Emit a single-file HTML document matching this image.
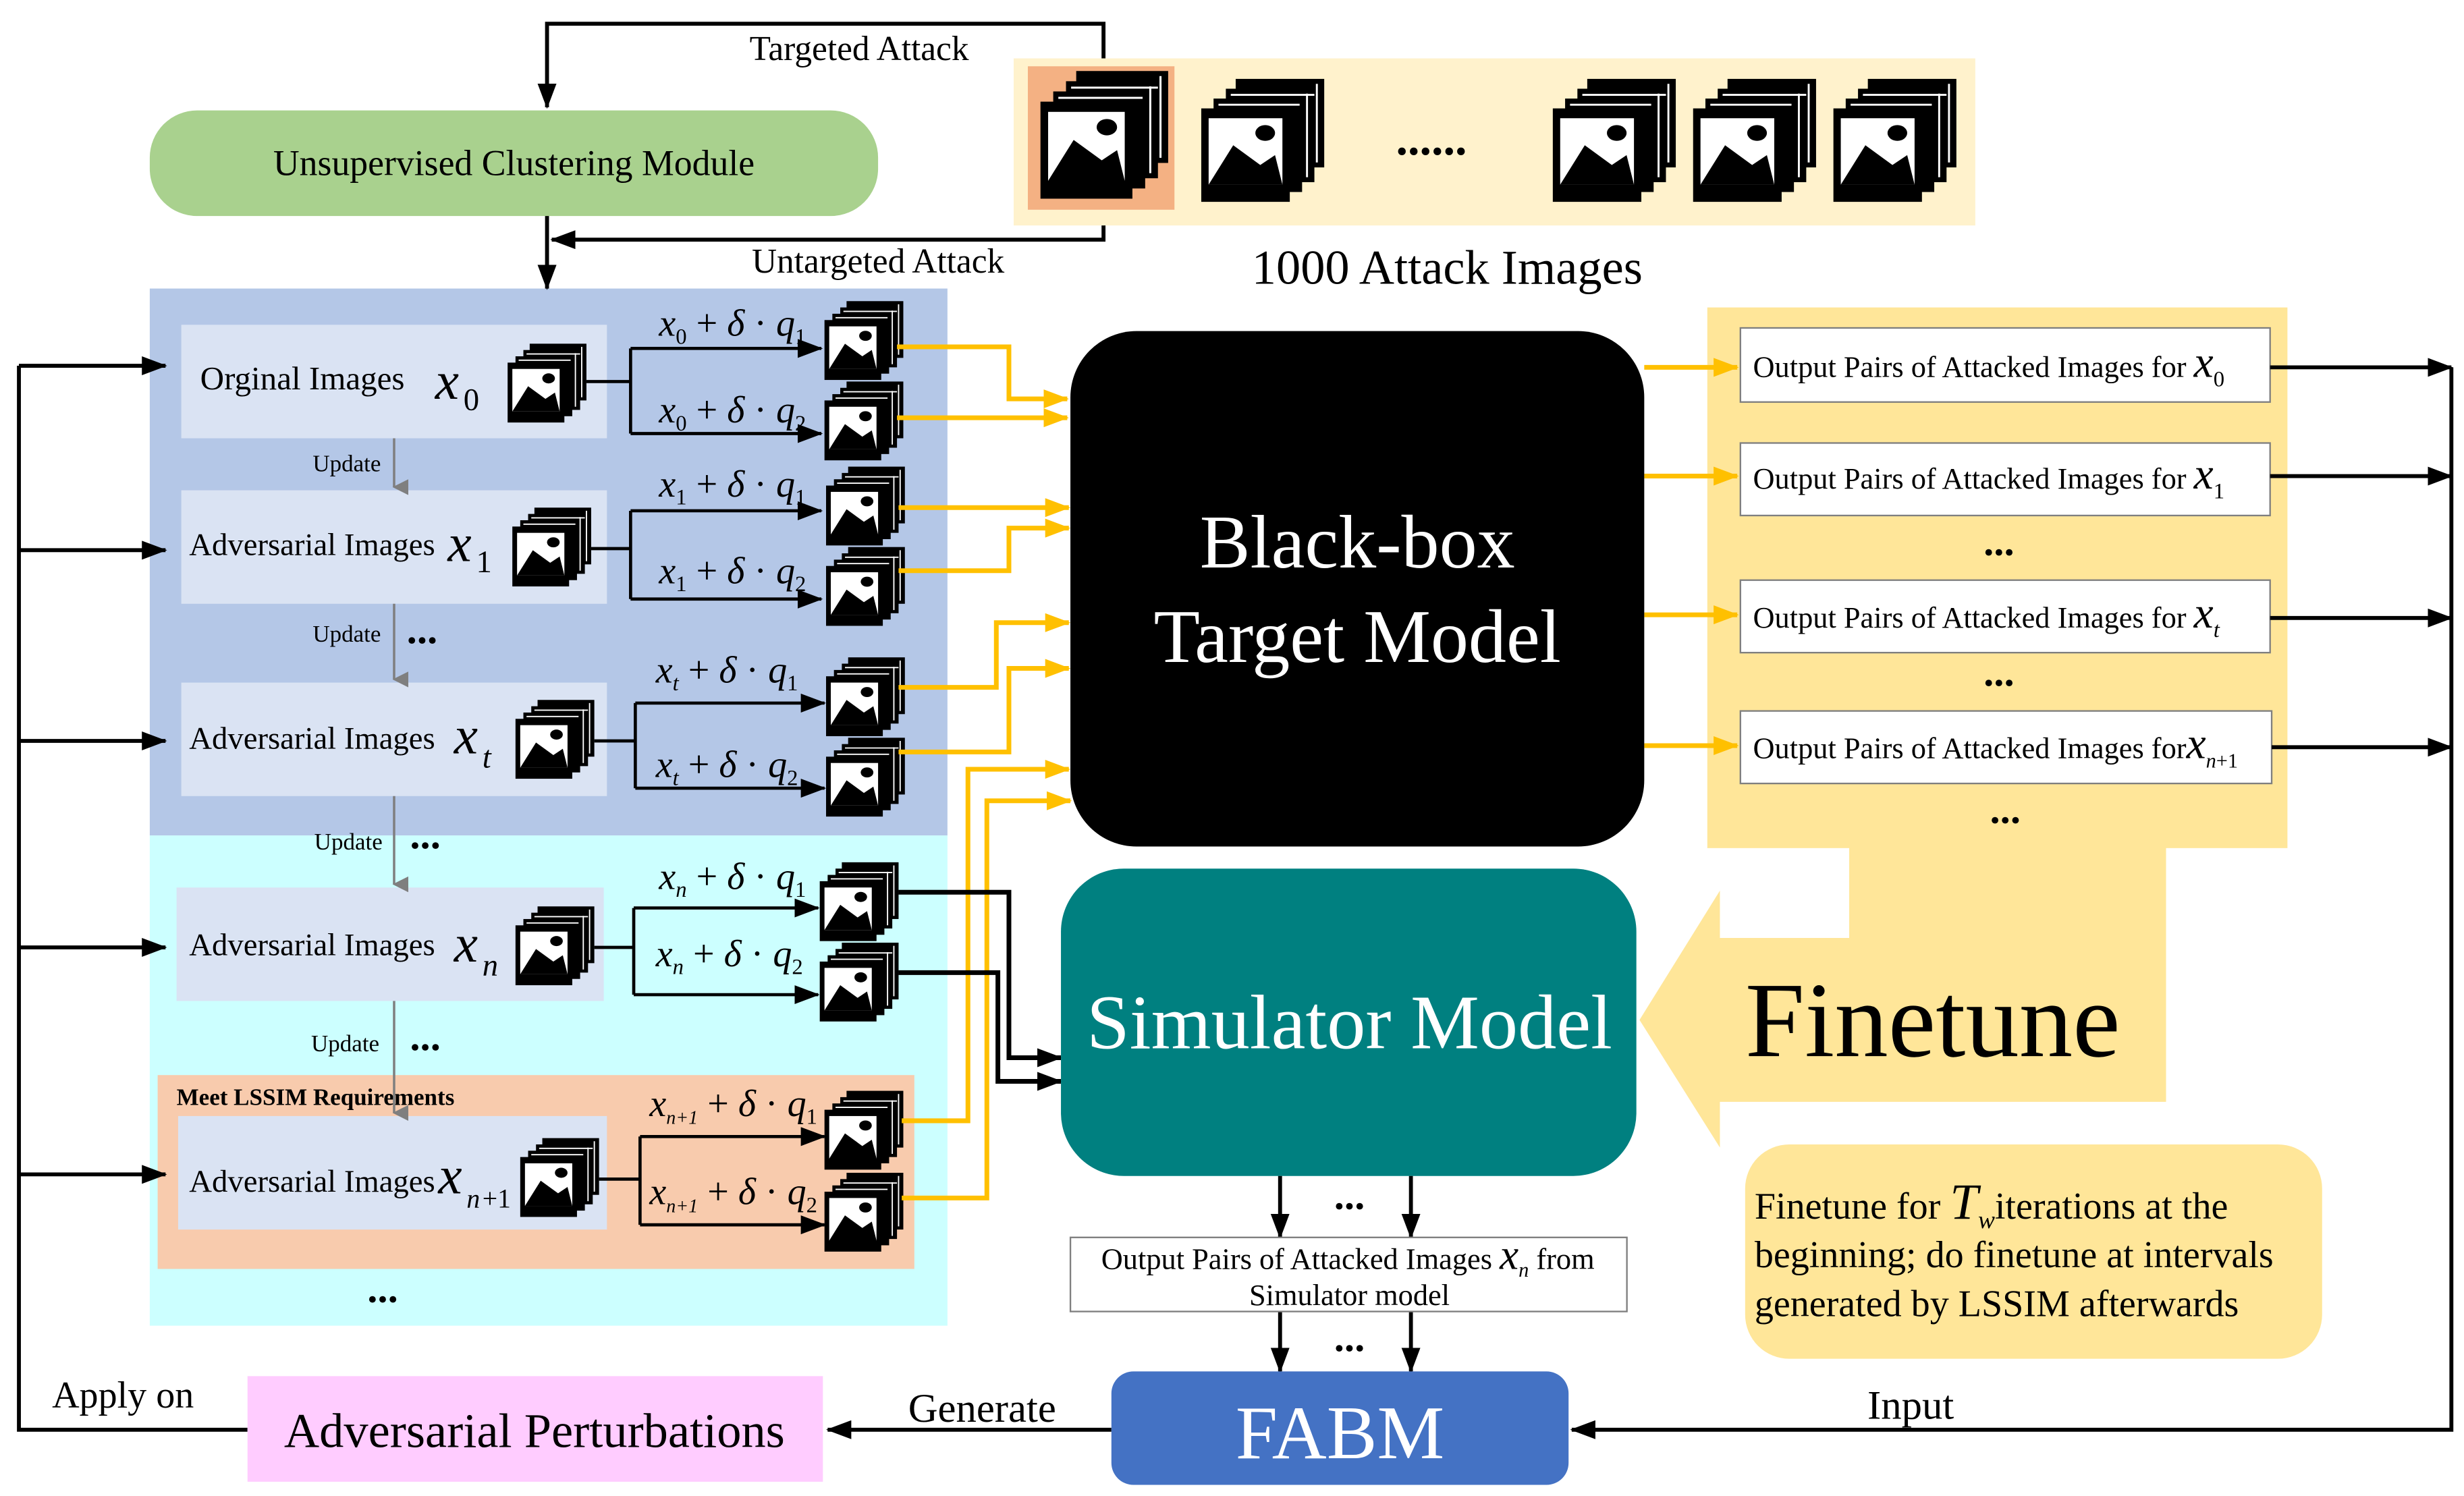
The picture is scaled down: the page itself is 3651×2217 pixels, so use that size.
<!DOCTYPE html>
<html><head><meta charset="utf-8"><style>
html,body{margin:0;padding:0;background:#fff;}
svg{display:block;font-family:"Liberation Serif","Times New Roman",Times,"DejaVu Serif",serif;}
svg text{font-family:"Liberation Serif","Times New Roman",Times,"DejaVu Serif",serif;}
.it{font-style:italic;}
</style></head><body>
<svg width="3651" height="2217" viewBox="0 0 1563 949" xmlns="http://www.w3.org/2000/svg" font-family="Liberation Serif, Times New Roman, serif">
<defs>
<marker id="ab" markerUnits="userSpaceOnUse" markerWidth="16" markerHeight="12" refX="15" refY="6" orient="auto"><path d="M0,0 L16,6 L0,12 Z" fill="#000"/></marker>
<marker id="ay" markerUnits="userSpaceOnUse" markerWidth="16" markerHeight="12" refX="15" refY="6" orient="auto"><path d="M0,0 L16,6 L0,12 Z" fill="#ffc000"/></marker>
<marker id="ag" markerUnits="userSpaceOnUse" markerWidth="10" markerHeight="10" refX="5" refY="9" orient="auto-start-reverse"><path d="M0,0 L5,10 L10,0 Z" fill="#7f7f7f"/></marker>
<g id="st">
<rect x="14" y="0" width="36" height="36" fill="#000"/>
<rect x="10" y="4" width="36" height="38" fill="#000"/>
<line x1="12" y1="6.5" x2="46" y2="6.5" stroke="#fff" stroke-width="0.8"/>
<line x1="47" y1="2" x2="47" y2="34" stroke="#fff" stroke-width="0.8"/>
<rect x="5" y="8" width="36" height="38" fill="#000"/>
<line x1="7" y1="10.5" x2="40" y2="10.5" stroke="#fff" stroke-width="0.8"/>
<line x1="43" y1="6" x2="43" y2="40" stroke="#fff" stroke-width="0.8"/>
<rect x="0" y="12" width="36" height="38" fill="#000"/>
<rect x="3" y="16" width="30" height="27" fill="#fff"/>
<polygon points="3,43 13,27 24,35 30,31 33,43" fill="#000"/>
<ellipse cx="26" cy="22" rx="4" ry="3.2" fill="#000"/>
</g>
</defs>

<rect x="643" y="37" width="610" height="106" fill="#fff2cc"/>
<rect x="652" y="42" width="93" height="91" fill="#f4b183"/>
<rect x="95" y="183" width="506" height="347" fill="#b4c7e7"/>
<rect x="95" y="530" width="506" height="311" fill="#ccffff"/>
<rect x="100" y="682" width="480" height="123" fill="#f8cbad"/>
<rect x="1083" y="195" width="368" height="343" fill="#ffe699"/>
<polygon points="1173,537 1374,537 1374,699 1091,699 1091,728 1040,647 1091,565 1091,595 1173,595" fill="#ffe699"/>

<rect x="95" y="70" width="462" height="67" rx="30" fill="#a9d18e"/>
<text x="326" y="111" font-size="23" text-anchor="middle">Unsupervised Clustering Module</text>
<polyline points="700,37 700,15 347,15 347,68" fill="none" stroke="#000" stroke-width="2.5" marker-end="url(#ab)"/>
<text x="545" y="38" font-size="22" text-anchor="middle">Targeted Attack</text>
<polyline points="700,143 700,152 350,152" fill="none" stroke="#000" stroke-width="2.5" marker-end="url(#ab)"/>
<line x1="347" y1="137" x2="347" y2="183" stroke="#000" stroke-width="2.5" marker-end="url(#ab)"/>
<text x="557" y="173" font-size="22" text-anchor="middle">Untargeted Attack</text>
<text x="918" y="180" font-size="31" text-anchor="middle">1000 Attack Images</text>
<use href="#st" transform="translate(660,45) scale(1.62)"/>
<use href="#st" transform="translate(762,50) scale(1.56)"/>
<text x="908" y="98" font-size="30" text-anchor="middle" font-weight="bold">......</text>
<use href="#st" transform="translate(985,50) scale(1.56)"/>
<use href="#st" transform="translate(1074,50) scale(1.56)"/>
<use href="#st" transform="translate(1163,50) scale(1.56)"/>

<g fill="#dae3f3">
<rect x="115" y="206" width="270" height="72"/>
<rect x="115" y="311" width="270" height="72"/>
<rect x="115" y="433" width="270" height="72"/>
<rect x="112" y="563" width="271" height="72"/>
<rect x="113" y="708" width="272" height="72"/>
</g>
<text x="127" y="247" font-size="21">Orginal Images</text><text x="276" y="253" font-size="34" class="it">x</text><text x="294" y="260" font-size="20">0</text>
<text x="120" y="352" font-size="20">Adversarial Images</text><text x="284" y="356" font-size="34" class="it">x</text><text x="302" y="363" font-size="20">1</text>
<text x="120" y="475" font-size="20">Adversarial Images</text><text x="288" y="478" font-size="34" class="it">x</text><text x="306" y="487" font-size="20" class="it">t</text>
<text x="120" y="606" font-size="20">Adversarial Images</text><text x="288" y="610" font-size="34" class="it">x</text><text x="306" y="619" font-size="20" class="it">n</text>
<text x="112" y="701" font-size="15" font-weight="bold">Meet LSSIM Requirements</text>
<text x="120" y="756" font-size="20">Adversarial Images</text><text x="278" y="757" font-size="34" class="it">x</text><text x="296" y="766" font-size="17" class="it">n</text><text x="306" y="766" font-size="17">+1</text>
<use href="#st" transform="translate(322,218)"/>
<use href="#st" transform="translate(325,322)"/>
<use href="#st" transform="translate(327,444)"/>
<use href="#st" transform="translate(327,575)"/>
<use href="#st" transform="translate(330,722)"/>

<g fill="none" stroke="#000" stroke-width="2">
<polyline points="372,242 400,242"/><polyline points="400,221 400,275"/>
<line x1="400" y1="221" x2="521" y2="221" marker-end="url(#ab)"/><line x1="400" y1="275" x2="521" y2="275" marker-end="url(#ab)"/>
<polyline points="375,348 400,348"/><polyline points="400,324 400,380"/>
<line x1="400" y1="324" x2="521" y2="324" marker-end="url(#ab)"/><line x1="400" y1="380" x2="521" y2="380" marker-end="url(#ab)"/>
<polyline points="377,470 403,470"/><polyline points="403,446 403,500"/>
<line x1="403" y1="446" x2="523" y2="446" marker-end="url(#ab)"/><line x1="403" y1="500" x2="523" y2="500" marker-end="url(#ab)"/>
<polyline points="377,601 402,601"/><polyline points="402,576 402,631"/>
<line x1="402" y1="576" x2="519" y2="576" marker-end="url(#ab)"/><line x1="402" y1="631" x2="519" y2="631" marker-end="url(#ab)"/>
<polyline points="380,748 406,748"/><polyline points="406,721 406,777"/>
<line x1="406" y1="721" x2="523" y2="721" marker-end="url(#ab)"/><line x1="406" y1="777" x2="523" y2="777" marker-end="url(#ab)"/>
</g>
<g font-size="24">
<text x="418" y="213" class="it">x<tspan font-size="14" dy="5" font-style="normal">0</tspan><tspan dy="-5" font-style="normal"> + </tspan>δ<tspan font-style="normal"> · </tspan>q<tspan font-size="14" dy="5" font-style="normal">1</tspan></text>
<text x="418" y="268" class="it">x<tspan font-size="14" dy="5" font-style="normal">0</tspan><tspan dy="-5" font-style="normal"> + </tspan>δ<tspan font-style="normal"> · </tspan>q<tspan font-size="14" dy="5" font-style="normal">2</tspan></text>
<text x="418" y="315" class="it">x<tspan font-size="14" dy="5" font-style="normal">1</tspan><tspan dy="-5" font-style="normal"> + </tspan>δ<tspan font-style="normal"> · </tspan>q<tspan font-size="14" dy="5" font-style="normal">1</tspan></text>
<text x="418" y="370" class="it">x<tspan font-size="14" dy="5" font-style="normal">1</tspan><tspan dy="-5" font-style="normal"> + </tspan>δ<tspan font-style="normal"> · </tspan>q<tspan font-size="14" dy="5" font-style="normal">2</tspan></text>
<text x="416" y="433" class="it">x<tspan font-size="14" dy="5">t</tspan><tspan dy="-5" font-style="normal"> + </tspan>δ<tspan font-style="normal"> · </tspan>q<tspan font-size="14" dy="5" font-style="normal">1</tspan></text>
<text x="416" y="493" class="it">x<tspan font-size="14" dy="5">t</tspan><tspan dy="-5" font-style="normal"> + </tspan>δ<tspan font-style="normal"> · </tspan>q<tspan font-size="14" dy="5" font-style="normal">2</tspan></text>
<text x="418" y="564" class="it">x<tspan font-size="14" dy="5">n</tspan><tspan dy="-5" font-style="normal"> + </tspan>δ<tspan font-style="normal"> · </tspan>q<tspan font-size="14" dy="5" font-style="normal">1</tspan></text>
<text x="416" y="613" class="it">x<tspan font-size="14" dy="5">n</tspan><tspan dy="-5" font-style="normal"> + </tspan>δ<tspan font-style="normal"> · </tspan>q<tspan font-size="14" dy="5" font-style="normal">2</tspan></text>
<text x="412" y="708" class="it">x<tspan font-size="12" dy="5">n+1</tspan><tspan dy="-5" font-style="normal"> + </tspan>δ<tspan font-style="normal"> · </tspan>q<tspan font-size="14" dy="5" font-style="normal">1</tspan></text>
<text x="412" y="764" class="it">x<tspan font-size="12" dy="5">n+1</tspan><tspan dy="-5" font-style="normal"> + </tspan>δ<tspan font-style="normal"> · </tspan>q<tspan font-size="14" dy="5" font-style="normal">2</tspan></text>
</g>
<use href="#st" transform="translate(523,191)"/>
<use href="#st" transform="translate(523,242)"/>
<use href="#st" transform="translate(524,296)"/>
<use href="#st" transform="translate(524,347)"/>
<use href="#st" transform="translate(524,417)"/>
<use href="#st" transform="translate(524,468)"/>
<use href="#st" transform="translate(520,547)"/>
<use href="#st" transform="translate(520,598)"/>
<use href="#st" transform="translate(523,692)"/>
<use href="#st" transform="translate(523,744)"/>

<g stroke="#7f7f7f" stroke-width="1.5">
<line x1="250" y1="278" x2="250" y2="309" marker-end="url(#ag)"/>
<line x1="250" y1="383" x2="250" y2="431" marker-end="url(#ag)"/>
<line x1="250" y1="505" x2="250" y2="561" marker-end="url(#ag)"/>
<line x1="250" y1="635" x2="250" y2="706" marker-end="url(#ag)"/>
</g>
<g font-size="15" text-anchor="middle">
<text x="220" y="299">Update</text><text x="220" y="407">Update</text><text x="221" y="539">Update</text><text x="219" y="667">Update</text>
</g>
<g font-size="26" font-weight="bold">
<text x="258" y="408">...</text><text x="260" y="538">...</text><text x="260" y="666">...</text><text x="233" y="826">...</text>
</g>

<g fill="none" stroke="#ffc000" stroke-width="3">
<polyline points="569,220 640,220 640,253 677,253" marker-end="url(#ay)"/>
<polyline points="569,265 677,265" marker-end="url(#ay)"/>
<polyline points="570,322 678,322" marker-end="url(#ay)"/>
<polyline points="570,362 640,362 640,335 678,335" marker-end="url(#ay)"/>
<polyline points="570,436 632,436 632,395 678,395" marker-end="url(#ay)"/>
<polyline points="570,477 640,477 640,424 678,424" marker-end="url(#ay)"/>
<polyline points="572,711 614,711 614,488 678,488" marker-end="url(#ay)"/>
<polyline points="572,760 626,760 626,508 679,508" marker-end="url(#ay)"/>
<line x1="1043" y1="233" x2="1102" y2="233" marker-end="url(#ay)"/>
<line x1="1043" y1="302" x2="1102" y2="302" marker-end="url(#ay)"/>
<line x1="1043" y1="390" x2="1102" y2="390" marker-end="url(#ay)"/>
<line x1="1043" y1="473" x2="1102" y2="473" marker-end="url(#ay)"/>
</g>
<g fill="none" stroke="#000" stroke-width="3">
<polyline points="570,566 640,566 640,671 673,671" marker-end="url(#ab)"/>
<polyline points="570,617 633,617 633,686 673,686" marker-end="url(#ab)"/>
</g>

<rect x="679" y="210" width="364" height="327" rx="42" fill="#000"/>
<text x="861" y="360" font-size="48" fill="#fff" text-anchor="middle">Black-box</text>
<text x="861" y="420" font-size="48" fill="#fff" text-anchor="middle">Target Model</text>
<rect x="673" y="551" width="365" height="195" rx="40" fill="#008080"/>
<text x="856" y="665" font-size="49" fill="#fff" text-anchor="middle">Simulator Model</text>
<text x="1107" y="670" font-size="68">Finetune</text>

<g fill="#fff" stroke="#7f7f7f" stroke-width="1">
<rect x="1104" y="208" width="336" height="47"/>
<rect x="1104" y="281" width="336" height="46"/>
<rect x="1104" y="368" width="336" height="46"/>
<rect x="1104" y="451" width="337" height="46"/>
</g>
<g font-size="19">
<text x="1112" y="239">Output Pairs of Attacked Images for <tspan class="it" font-size="28">x</tspan><tspan font-size="14" dy="6">0</tspan></text>
<text x="1112" y="310">Output Pairs of Attacked Images for <tspan class="it" font-size="28">x</tspan><tspan font-size="14" dy="6">1</tspan></text>
<text x="1112" y="398">Output Pairs of Attacked Images for <tspan class="it" font-size="28">x</tspan><tspan font-size="14" dy="6" class="it">t</tspan></text>
<text x="1112" y="481">Output Pairs of Attacked Images for<tspan class="it" font-size="28">x</tspan><tspan font-size="13" dy="6" class="it">n</tspan><tspan font-size="13">+1</tspan></text>
</g>
<g font-size="26" font-weight="bold" text-anchor="middle">
<text x="1268" y="352">...</text><text x="1268" y="435">...</text><text x="1272" y="522">...</text>
<text x="856" y="767">...</text><text x="856" y="857">...</text>
</g>

<g fill="none" stroke="#000" stroke-width="2.5">
<line x1="1440" y1="233" x2="1555" y2="233" marker-end="url(#ab)"/>
<line x1="1440" y1="302" x2="1555" y2="302" marker-end="url(#ab)"/>
<line x1="1440" y1="392" x2="1555" y2="392" marker-end="url(#ab)"/>
<line x1="1441" y1="474" x2="1555" y2="474" marker-end="url(#ab)"/>
<polyline points="1555,233 1555,907 997,907" marker-end="url(#ab)"/>
<polyline points="157,907 12,907 12,232"/>
<line x1="12" y1="232" x2="105" y2="232" marker-end="url(#ab)"/>
<line x1="12" y1="349" x2="105" y2="349" marker-end="url(#ab)"/>
<line x1="12" y1="470" x2="105" y2="470" marker-end="url(#ab)"/>
<line x1="12" y1="601" x2="105" y2="601" marker-end="url(#ab)"/>
<line x1="12" y1="745" x2="105" y2="745" marker-end="url(#ab)"/>
<line x1="705" y1="907" x2="525" y2="907" marker-end="url(#ab)"/>
<line x1="812" y1="746" x2="812" y2="785" marker-end="url(#ab)"/>
<line x1="895" y1="746" x2="895" y2="785" marker-end="url(#ab)"/>
<line x1="812" y1="832" x2="812" y2="870" marker-end="url(#ab)"/>
<line x1="895" y1="832" x2="895" y2="870" marker-end="url(#ab)"/>
</g>
<text x="1212" y="900" font-size="26" text-anchor="middle">Input</text>
<text x="623" y="902" font-size="26" text-anchor="middle">Generate</text>
<text x="33" y="893" font-size="24">Apply on</text>

<rect x="679" y="785" width="353" height="47" fill="#fff" stroke="#7f7f7f" stroke-width="1"/>
<text x="855" y="805" font-size="19" text-anchor="middle">Output Pairs of Attacked Images <tspan class="it" font-size="27">x</tspan><tspan font-size="13" class="it" dy="5">n</tspan><tspan dy="-5"> from</tspan></text>
<text x="856" y="828" font-size="19" text-anchor="middle">Simulator model</text>

<rect x="705" y="870" width="290" height="72" rx="14" fill="#4472c4"/>
<text x="850" y="925" font-size="48" fill="#fff" text-anchor="middle">FABM</text>
<rect x="157" y="873" width="365" height="67" fill="#ffccff"/>
<text x="339" y="918" font-size="31" text-anchor="middle">Adversarial Perturbations</text>

<rect x="1107" y="726" width="366" height="136" rx="28" fill="#ffe699"/>
<g font-size="24">
<text x="1113" y="773">Finetune for <tspan class="it" font-size="32">T</tspan><tspan class="it" font-size="16" dy="6">w</tspan><tspan dy="-6">iterations at the</tspan></text>
<text x="1113" y="804">beginning; do finetune at intervals</text>
<text x="1113" y="835">generated by LSSIM afterwards</text>
</g>
</svg>
</body></html>
